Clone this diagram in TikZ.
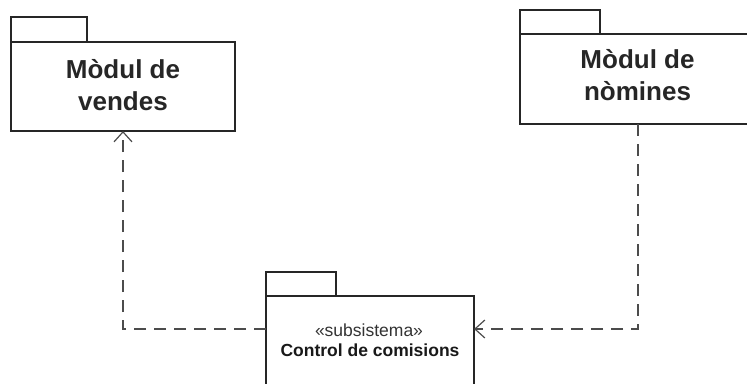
\documentclass[tikz,border=0pt]{standalone}
\usepackage{fontspec}
\setmainfont{Liberation Sans}
\usetikzlibrary{arrows.meta}
\begin{document}
\begin{tikzpicture}[x=1pt,y=-1pt,
  pkg/.style={draw=black!85,line width=1.6pt,fill=white,inner sep=0pt,outer sep=0pt},
  bigtxt/.style={font=\fontsize{26}{32}\selectfont\bfseries,align=center,anchor=base,inner sep=0pt,text=black!85},
  dep/.style={draw=black!70,line width=1.5pt,dash pattern=on 12pt off 8pt,-{Straight Barb[length=10pt,width=18pt,line width=1.2pt]}}]
\useasboundingbox (0,0) rectangle (747,383);
% left package
\node[pkg,minimum width=76pt,minimum height=25pt] (tabL) at (49,29.5) {};
\node[pkg,minimum width=224pt,minimum height=89pt] (bodyL) at (123,86.5) {};
\node[bigtxt] (txtL) at (123,110) {Mòdul de\\vendes};
% right package
\node[pkg,minimum width=80pt,minimum height=24pt] (tabR) at (560,22) {};
\node[pkg,minimum width=235pt,minimum height=90pt] (bodyR) at (637.5,79) {};
\node[bigtxt] (txtR) at (637.5,100) {Mòdul de\\nòmines};
% bottom package
\node[pkg,minimum width=70pt,minimum height=24pt] (tabB) at (301,284) {};
\node[pkg,minimum width=208pt,minimum height=104pt] (bodyB) at (370,348) {};
\node[anchor=base,inner sep=0pt,font=\fontsize{17.5}{20}\selectfont,text=black!80] (stereo) at (369,336) {«subsistema»};
\node[anchor=base,inner sep=0pt,font=\fontsize{17.5}{20}\selectfont\bfseries,text=black!90] (name) at (370,356) {Control de comisions};
% connectors
\coordinate (cL) at (123,329);
\coordinate (cR) at (638,329);
\draw[dep] (bodyB.west |- cL) -- (cL) -- (cL |- bodyL.south);
\draw[dep] (cR |- bodyR.south) -- (cR) -- (bodyB.east |- cR);
\end{tikzpicture}
\end{document}
